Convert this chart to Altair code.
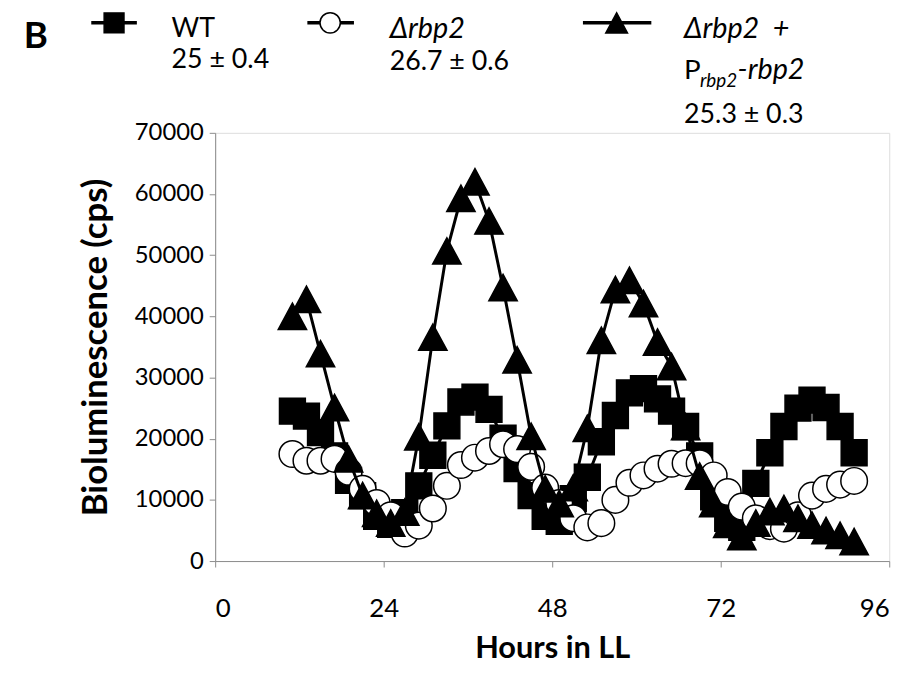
import altair as alt
import pandas as pd

hours = [11, 13, 15, 17, 19, 21, 23, 25, 27, 29, 31, 33, 35, 37, 39, 41, 43, 45, 47, 49,
         51, 53, 55, 57, 59, 61, 63, 65, 67, 69, 71, 73, 75, 77, 79, 81, 83, 85, 87, 89, 91]

wt = [24500, 23700, 21000, 17200, 13200, 10700, 7300, 6000, 7900, 12300,
      17300, 22100, 26000, 26800, 24800, 20100, 15100, 10700, 7300, 6500,
      10200, 13700, 19500, 23800, 27500, 28200, 26500, 24500, 22000, 17200,
      10500, 7000, 5500, 12700, 17700, 22000, 25000, 26300, 25100, 22000, 17700]

drbp2 = [17500, 16400, 16400, 16700, 14600, 11800, 9500, 7500, 4500, 5800,
         8600, 12300, 15700, 16900, 18000, 19100, 18300, 15400, 12000, 9500,
         7000, 5500, 6200, 10000, 12800, 14000, 15100, 15900, 16000, 16000,
         14000, 11300, 8900, 7000, 5700, 5300, 7500, 10700, 11800, 12500, 13100]

comp = [40000, 42800, 33900, 25100, 16700, 10700, 7800, 6200, 8000, 20300,
        36600, 50700, 59300, 62000, 55600, 44700, 32900, 20400, 11800, 9400,
        12000, 21700, 36100, 44400, 45900, 42100, 35800, 31800, 22000, 13900,
        9400, 6000, 4000, 6200, 8100, 8600, 7000, 5900, 5000, 4200, 3200]

x_ticks = [0, 24, 48, 72, 96]
y_ticks = [0, 10000, 20000, 30000, 40000, 50000, 60000, 70000]

FONT = "Lato"
W, H = 680, 432

df_wt = pd.DataFrame({"h": hours, "v": wt})
df_d = pd.DataFrame({"h": hours, "v": drbp2})
df_c = pd.DataFrame({"h": hours, "v": comp})

xs = alt.X("h:Q", scale=alt.Scale(domain=[0, 96], nice=False),
           axis=alt.Axis(values=x_ticks, title="Hours in LL", grid=False,
                         tickSize=6, tickColor="#8c8c8c", domainColor="#8c8c8c",
                         labelFontSize=26, labelPadding=29, labelFont=FONT,
                         labelColor="black", titleFont=FONT, titleFontSize=31,
                         titleFontWeight="bold", titleColor="black", titlePadding=12))
ys = alt.Y("v:Q", scale=alt.Scale(domain=[0, 70000], nice=False),
           axis=alt.Axis(values=y_ticks, format="d", title="Bioluminescence (cps)",
                         grid=False, tickSize=6, tickColor="#8c8c8c",
                         domainColor="#8c8c8c", labelFontSize=24, labelPadding=6,
                         labelFont=FONT, labelColor="black", titleFont=FONT,
                         titleFontSize=35, titleFontWeight="bold", titleColor="black",
                         titlePadding=21))

TRI = "M-1,0.93L1,0.93L0,-0.93Z"


def series(df, shape, size, fill):
    base = alt.Chart(df)
    line = base.mark_line(color="black", strokeWidth=3).encode(x=xs, y=ys)
    pts = base.mark_point(shape=shape, size=size, filled=True, fill=fill,
                          stroke="black", strokeWidth=1.5, opacity=1).encode(x=xs, y=ys)
    return [line, pts]


layers = []
layers += series(df_wt, "square", 680, "black")
layers += series(df_d, "circle", 720, "white")
layers += series(df_c, TRI, 820, "black")

# legend ---------------------------------------------------------------
OX, OY = 217, 131  # plot origin on the page


def txt(t, x, y, size=26, weight="normal", style="normal"):
    return alt.Chart(pd.DataFrame({"t": [t]})).mark_text(
        align="left", baseline="alphabetic", font=FONT, fontSize=size,
        fontWeight=weight, fontStyle=style, color="black"
    ).encode(text="t:N", x=alt.value(x - OX), y=alt.value(y - OY))


def seg(x1, x2, y):
    return alt.Chart(pd.DataFrame({"a": [0]})).mark_rule(
        color="black", strokeWidth=3.5
    ).encode(x=alt.value(x1 - OX), x2=alt.value(x2 - OX), y=alt.value(y - OY))


def sym(x, y, shape, size, fill):
    return alt.Chart(pd.DataFrame({"a": [0]})).mark_point(
        shape=shape, size=size, filled=True, fill=fill, stroke="black",
        strokeWidth=1.5, opacity=1
    ).encode(x=alt.value(x - OX), y=alt.value(y - OY))


legend = [
    txt("B", 24, 45, size=37, weight="bold"),
    seg(92, 138, 20), sym(115, 20, "square", 400, "black"),
    txt("WT", 173, 34, size=27), txt("25 ± 0.4", 173, 66, size=27),
    seg(310, 357, 20), sym(333, 20, "circle", 420, "white"),
    txt("Δrbp2", 393, 35, size=29, style="italic"), txt("26.7 ± 0.6", 393, 68, size=27),
    seg(588, 657, 20), sym(622, 20, TRI, 480, "black"),
    txt("Δrbp2 \u00a0+", 690, 35, size=29, style="italic"),
    txt("P", 690, 77, size=28), txt("rbp2", 706, 85, size=19, style="italic"),
    txt("-rbp2", 744, 77, size=29, style="italic"),
    txt("25.3 ± 0.3", 690, 121, size=27),
]

chart = alt.layer(*layers, *legend).properties(
    width=W, height=H,
    autosize=alt.AutoSizeParams(type="none"),
    padding={"left": 209, "top": 123, "right": 27, "bottom": 112},
).configure_view(stroke=None).configure(background="white")

chart.save("out.html", embed_options={"renderer": "svg", "actions": False})
